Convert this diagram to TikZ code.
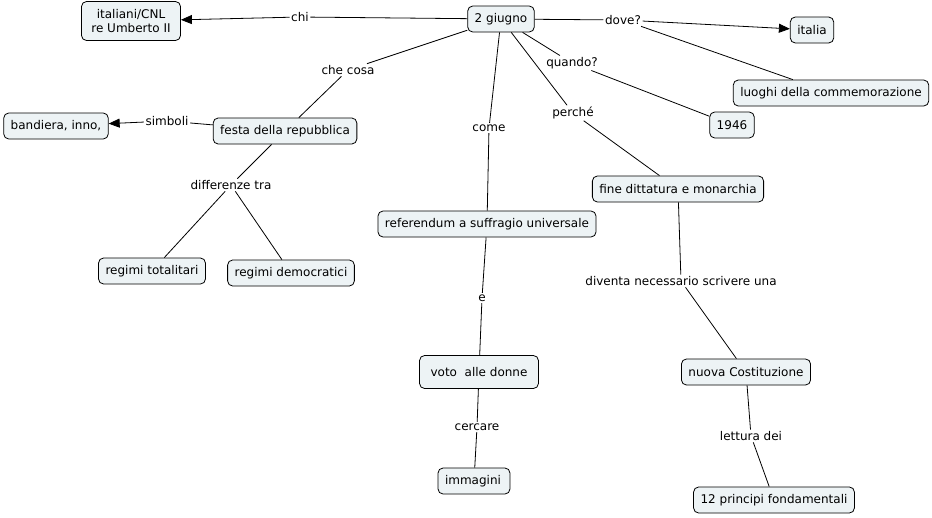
\documentclass[tikz,border=0pt]{standalone}
\usepackage{fontspec}
\setmainfont{DejaVu Sans}
\usetikzlibrary{arrows.meta}
\definecolor{boxfill}{RGB}{237,243,245}
\tikzset{
  concept/.style={draw=black, fill=boxfill, rounded corners=5pt, line width=0.8pt,
    inner xsep=7pt, inner ysep=3pt, minimum height=26pt,
    font=\fontsize{12}{14.5}\selectfont, align=center},
  lbl/.style={inner sep=1.5pt, font=\fontsize{12}{14.5}\selectfont, fill=white},
  conn/.style={line width=0.8pt, draw=black},
  arr/.style={conn, -{Triangle[length=11pt,width=9pt]}}
}
\begin{document}
\begin{tikzpicture}[x=1pt,y=-1pt]
\path[use as bounding box, fill=white] (0,0) rectangle (932,517);
% concepts
\node[concept, minimum height=39pt, minimum width=99pt] (ital) at (131,21) {italiani/CNL\\re Umberto II};
\node[concept] (giu) at (501,19) {2 giugno};
\node[concept] (italia) at (812,30) {italia};
\node[concept] (luoghi) at (831,93) {luoghi della commemorazione};
\node[concept] (y46) at (732,125) {1946};
\node[concept] (band) at (56,126) {bandiera, inno,};
\node[concept] (festa) at (285,131) {festa della repubblica};
\node[concept] (fine) at (678,189) {fine dittatura e monarchia};
\node[concept] (ref) at (487,224) {referendum a suffragio universale};
\node[concept] (tot) at (152,271) {regimi totalitari};
\node[concept] (dem) at (291,273) {regimi democratici};
\node[concept, minimum height=33pt, inner xsep=11pt] (voto) at (479,372) {voto\ \ alle donne};
\node[concept] (nuova) at (746,372) {nuova Costituzione};
\node[concept] (img) at (474,481) {immagini\,};
\node[concept] (prin) at (774,500) {12 principi fondamentali};
% labels
\node[lbl] (chi) at (300,17) {chi};
\node[lbl] (dove) at (623,20) {dove?};
\node[lbl] (checosa) at (348,70) {che cosa};
\node[lbl] (quando) at (572,63) {quando?};
\node[lbl] (come) at (489,128) {come};
\node[lbl] (perche) at (573,113) {perché};
\node[lbl] (simb) at (167,121) {simboli};
\node[lbl] (diff) at (231,185) {differenze tra};
\node[lbl] (e) at (482,298) {e};
\node[lbl] (div) at (681,281) {diventa necessario scrivere una};
\node[lbl] (cerc) at (477,427) {cercare};
\node[lbl] (lett) at (751,436) {lettura dei};
% connectors
\draw[conn] (giu) -- (chi);
\draw[arr] (chi) -- (ital);
\draw[conn] (giu) -- (dove);
\draw[arr] (dove) -- (italia);
\draw[conn] (dove) -- (luoghi);
\draw[conn] (giu) -- (checosa);
\draw[conn] (checosa) -- (festa);
\draw[conn] (giu) -- (quando);
\draw[conn] (quando) -- (y46);
\draw[conn] (giu) -- (come);
\draw[conn] (come) -- (ref);
\draw[conn] (giu) -- (perche);
\draw[conn] (perche) -- (fine);
\draw[conn] (festa) -- (simb);
\draw[arr] (simb) -- (band);
\draw[conn] (festa) -- (diff);
\draw[conn] (diff) -- (tot);
\draw[conn] (diff) -- (dem);
\draw[conn] (ref) -- (e);
\draw[conn] (e) -- (voto);
\draw[conn] (fine) -- (div);
\draw[conn] (div) -- (nuova);
\draw[conn] (voto) -- (cerc);
\draw[conn] (cerc) -- (img);
\draw[conn] (nuova) -- (lett);
\draw[conn] (lett) -- (prin);
\end{tikzpicture}
\end{document}
